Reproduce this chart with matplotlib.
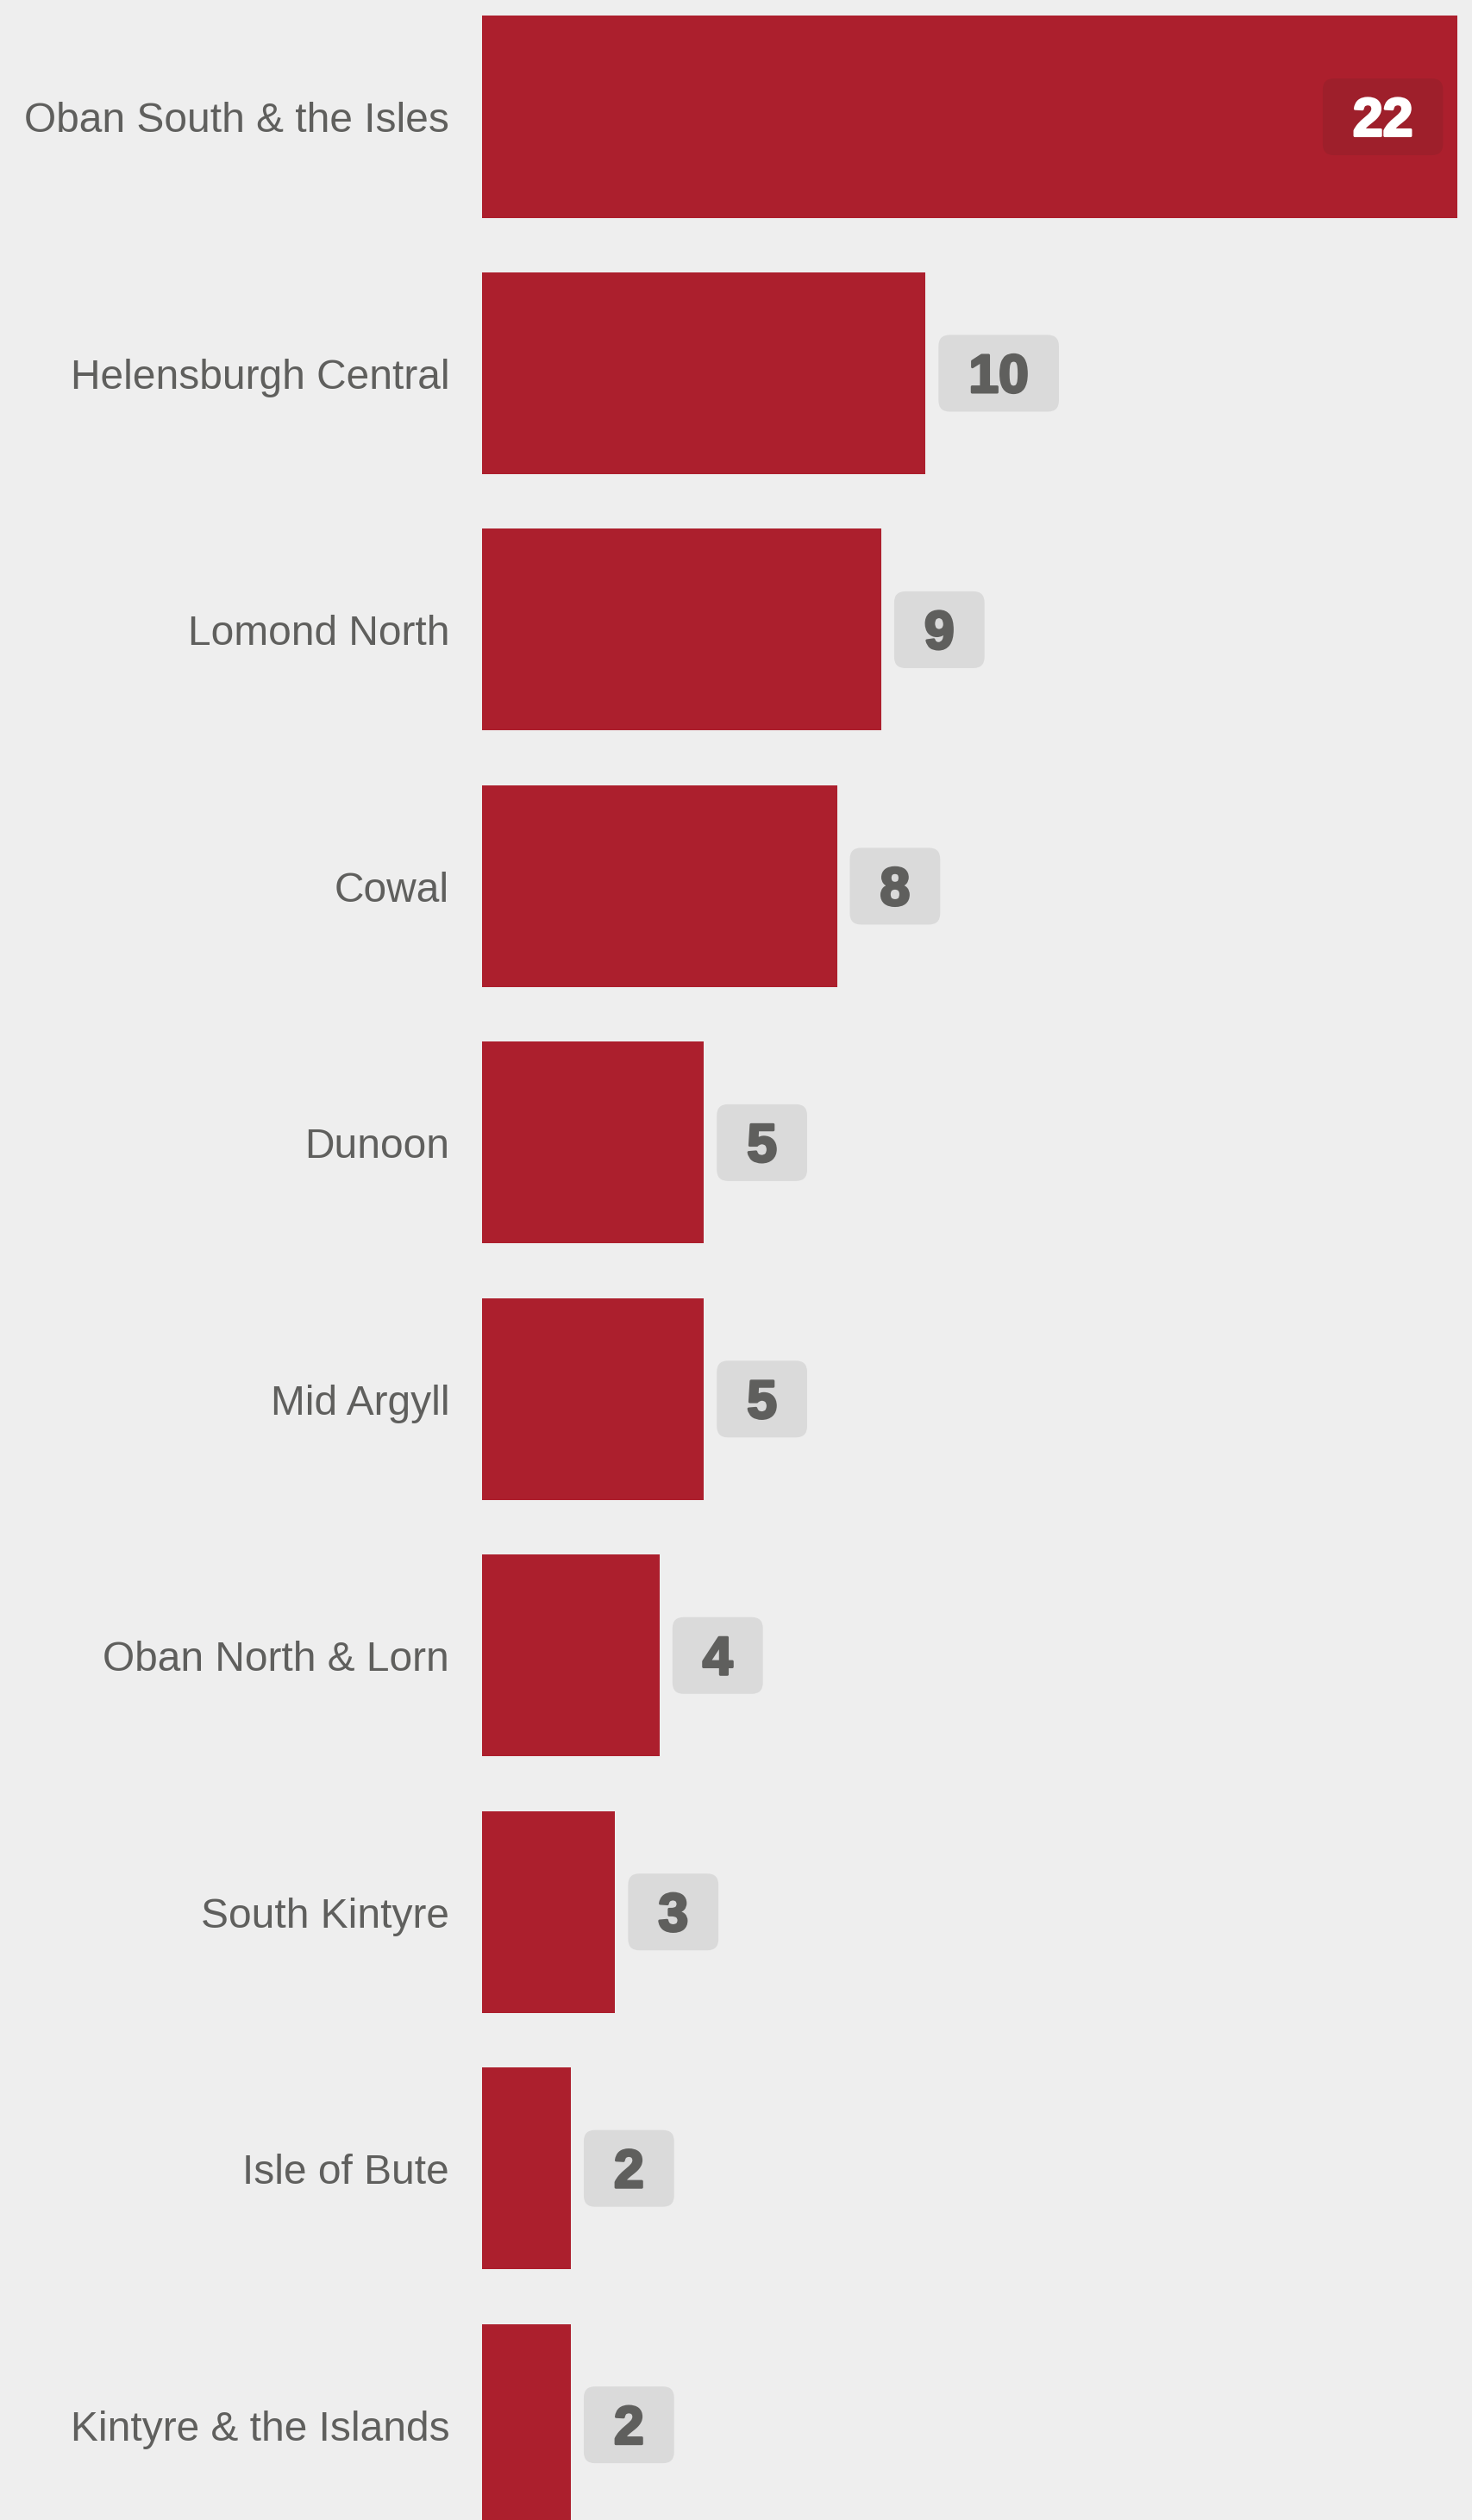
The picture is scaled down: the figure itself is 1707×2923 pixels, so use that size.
import matplotlib
matplotlib.use("Agg")
import matplotlib.pyplot as plt
import matplotlib.patheffects as pe
from matplotlib.patches import FancyBboxPatch
from matplotlib.transforms import ScaledTranslation, IdentityTransform

categories = ["Oban South & the Isles", "Helensburgh Central", "Lomond North", "Cowal",
              "Dunoon", "Mid Argyll", "Oban North & Lorn", "South Kintyre",
              "Isle of Bute", "Kintyre & the Islands"]
values = [22, 10, 9, 8, 5, 5, 4, 3, 2, 2]

BG = "#eeeeee"
BAR = "#ac1f2d"
TXT = "#5f5f5d"
BOX = "#dadada"
BOX_IN = "#9e1f2b"

W, H, DPI = 1707, 2923, 100
fig = plt.figure(figsize=(W / DPI + 0.004, H / DPI + 0.004), dpi=DPI, facecolor=BG)
plt.rcParams['font.family'] = ['Liberation Sans', 'DejaVu Sans']

ax = fig.add_axes([559 / W, 0, (1690 - 559) / W, 1])
ax.set_facecolor(BG)
ax.set_xlim(0, max(values))
ax.set_ylim(9.371, -0.457)
ax.axis("off")

ypos = list(range(len(categories)))
ax.barh(ypos, values, height=0.787, color=BAR, zorder=1)

def px(dx, dy):
    return ScaledTranslation(dx / DPI, dy / DPI, fig.dpi_scale_trans)

for i, lab in enumerate(categories):
    ax.text(0, i, lab, transform=ax.transData + px(-38, -17.5),
            ha="right", va="baseline", fontsize=34.5, color=TXT)

fig.canvas.draw()
renderer = fig.canvas.get_renderer()
PADX = 35
BOXH = 89
texts = []
for i, v in enumerate(values):
    inside = v == max(values)
    col = "white" if inside else TXT
    if inside:
        t = ax.text(v, i, str(v), transform=ax.transData + px(-(17 + PADX), -22),
                    ha="right", va="baseline", fontsize=45, fontweight="bold",
                    color=col, zorder=5, clip_on=False)
    else:
        t = ax.text(v, i, str(v), transform=ax.transData + px(15 + PADX, -22),
                    ha="left", va="baseline", fontsize=45, fontweight="bold",
                    color=col, zorder=5, clip_on=False)
    t.set_path_effects([pe.withStroke(linewidth=2.2, foreground=col)])
    texts.append((t, i, v, inside))

fig.canvas.draw()
for t, i, v, inside in texts:
    ext = t.get_window_extent(renderer)
    cx, cy = ax.transData.transform((v, i))
    bw = ext.width + 2 * PADX
    x0 = ext.x0 - PADX
    patch = FancyBboxPatch((x0, cy - BOXH / 2), bw, BOXH,
                           boxstyle="round,pad=0,rounding_size=13",
                           facecolor=BOX_IN if inside else BOX,
                           edgecolor="none", zorder=3, clip_on=False)
    ax.add_patch(patch)
    patch.set_transform(IdentityTransform())

fig.savefig("out.png", dpi=DPI, facecolor=BG)
